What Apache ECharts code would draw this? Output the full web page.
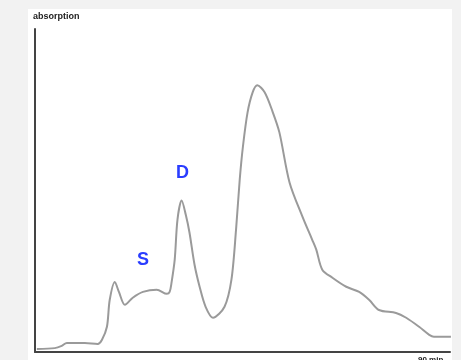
<!DOCTYPE html>
<html><head><meta charset="utf-8">
<script src="https://cdn.jsdelivr.net/npm/echarts@6/dist/echarts.min.js"></script>
<style>html,body{margin:0;padding:0;background:#f2f2f2}#c{width:461px;height:360px}</style>
</head><body><div id="c"></div>
<script>
// time in minutes
const times = [0.4, 4.3, 5.8, 6.9, 10.8, 13.6, 14.5, 15.6, 16.2, 17.3, 18.2, 19.5, 21.2, 23.4, 26.4, 28.6, 29.2, 29.6, 30.3, 30.9, 31.8, 32.7, 33.5, 34.6, 35.7, 37.0, 38.6, 41.1, 42.6, 43.6, 44.4, 45.1, 46.1, 47.2, 48.2, 49.8, 51.5, 53.0, 55.2, 58.0, 60.1, 61.0, 62.3, 64.5, 67.5, 70.3, 72.5, 74.6, 78.3, 80.5, 83.3, 85.5, 86.5, 90.2];
// absorption (relative units)
const absorption = [0.9, 1.2, 1.9, 2.8, 2.8, 2.5, 3.7, 7.8, 16.1, 21.7, 18.6, 14.6, 16.8, 18.6, 19.3, 18.0, 18.6, 21.4, 28.6, 41.0, 46.9, 42.5, 37.0, 27.0, 20.2, 14.0, 10.6, 14.0, 22.4, 37.9, 53.4, 63.7, 74.2, 80.4, 82.6, 80.4, 74.5, 68.0, 52.5, 41.9, 34.8, 31.7, 25.5, 23.0, 20.2, 18.6, 16.1, 13.0, 12.1, 10.6, 7.8, 5.3, 4.7, 4.7];
const peakNames = ['S', 'D'];
const peakLabelTimes = [23.4, 32.0];
const peakLabelValues = [28.4, 55.4];
const yAxisTitle = 'absorption';
const xAxisTitle = '90 min';

const chart = echarts.init(document.getElementById('c'));
chart.setOption({
  backgroundColor: '#f2f2f2',
  animation: false,
  graphic: [
    {type: 'rect', z: -10, shape: {x: 28, y: 9, width: 424, height: 351}, style: {fill: '#ffffff'}},
    {type: 'text', left: 33, top: 12, style: {text: yAxisTitle, font: 'bold 9px "Liberation Sans", Arial, sans-serif', fill: '#222'}},
    {type: 'text', left: 418, top: 356, style: {text: xAxisTitle, font: 'bold 8px "Liberation Sans", Arial, sans-serif', fill: '#222'}}
  ],
  grid: {left: 35, right: 11, top: 29, bottom: 8},
  xAxis: {type: 'value', min: 0, max: 90, axisLine: {show: true, lineStyle: {color: '#444', width: 2}}, axisTick: {show: false}, axisLabel: {show: false}, splitLine: {show: false}},
  yAxis: {type: 'value', min: 0, max: 100, axisLine: {show: true, lineStyle: {color: '#444', width: 2}}, axisTick: {show: false}, axisLabel: {show: false}, splitLine: {show: false}},
  series: [
    {type: 'line', data: times.map((t, i) => [t, absorption[i]]), showSymbol: false, smooth: 0.3, clip: false,
     lineStyle: {color: '#9a9a9a', width: 2}},
    {type: 'scatter', symbolSize: 0, itemStyle: {opacity: 1}, data: peakNames.map((n, i) => ({value: [peakLabelTimes[i], peakLabelValues[i]], name: n})),
     label: {show: true, position: 'inside', opacity: 1, formatter: p => p.name, color: '#2a3dff', fontWeight: 'bold', fontSize: 18, fontFamily: '"Liberation Sans", Arial, sans-serif'}}
  ]
});
</script></body></html>
